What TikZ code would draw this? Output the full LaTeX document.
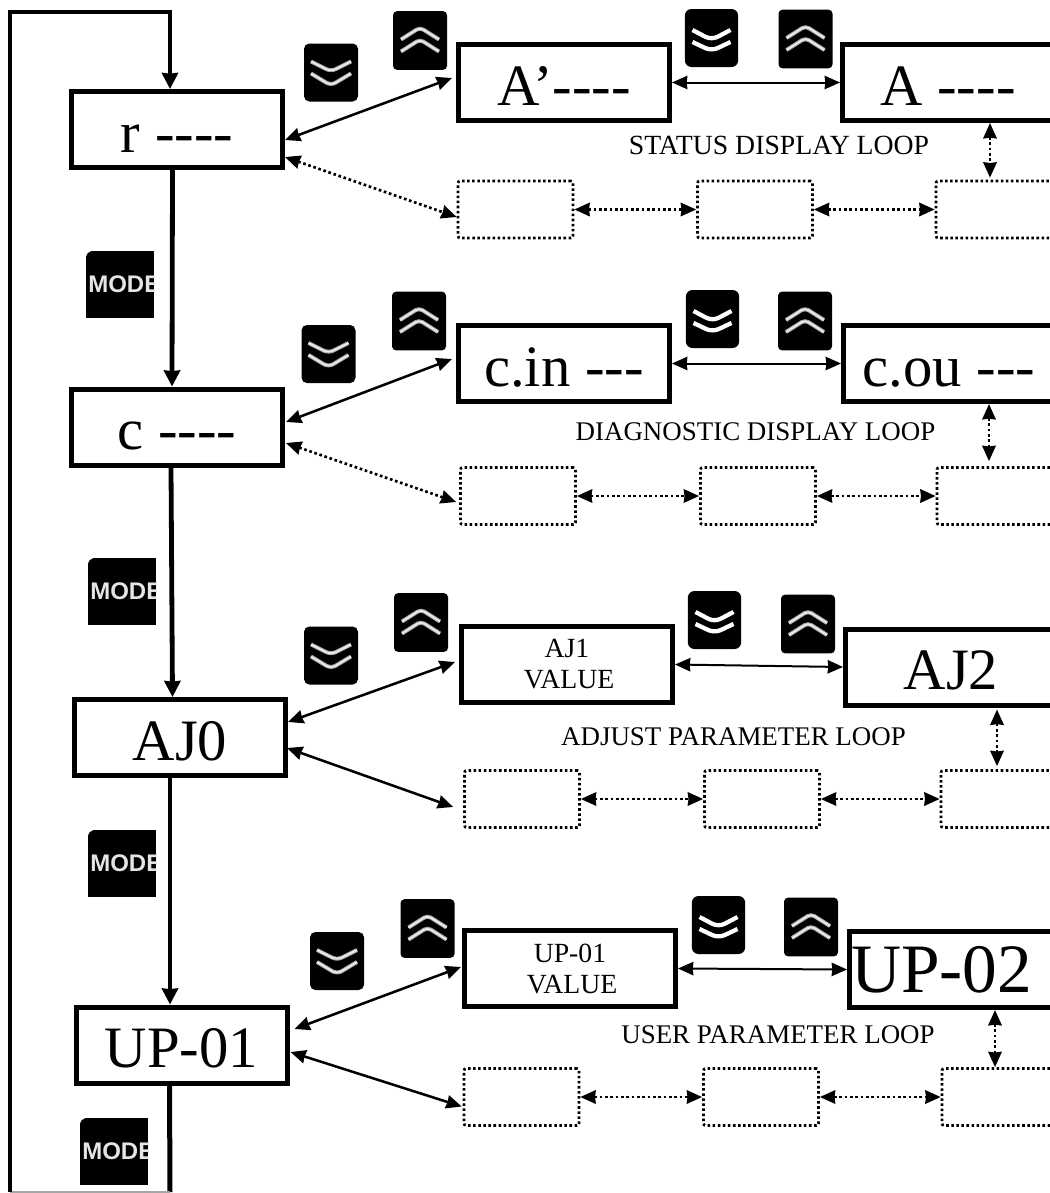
\documentclass[tikz,border=0pt]{standalone}
\usepackage{fontspec}
\setmainfont[Ligatures=TeXOff]{Liberation Serif}
\newfontfamily\keyfont{Liberation Sans}
\usetikzlibrary{arrows.meta, calc}

\begin{document}
\begin{tikzpicture}[
        x=0.75pt, y=-0.75pt,
        basebox/.style={rectangle, draw, line width=3.75pt, inner sep=0pt, minimum width=158.25pt, minimum height=57pt},
        mainbox/.style={basebox, text height=34pt, text depth=0pt, font=\fontsize{44}{50}\selectfont},
        smallbox/.style={basebox, align=center, font=\fontsize{20.8}{23.25}\selectfont},
        dotbox/.style={rectangle, draw, line width=2pt, dash pattern=on 1.9pt off 1.9pt, rounded corners=1.5pt, inner sep=0pt, minimum width=86.25pt, minimum height=42.75pt},
        dotend/.style={dotbox, minimum width=90pt},
        looplabel/.style={inner sep=0pt, font=\fontsize{20.2}{24}\selectfont},
        upkey/.style={rectangle, rounded corners=3pt, fill=black, minimum width=40.5pt, minimum height=44pt, path picture={
            \draw[gray!70, line width=3pt, shift={(path picture bounding box.center)}]
                (-19,-1) -- (0,-13) -- (19,-1) (-19,11) -- (0,-1) -- (19,11);
            \draw[white!92!black, line width=1.4pt, shift={(path picture bounding box.center)}]
                (-19,-1) -- (0,-13) -- (19,-1) (-19,11) -- (0,-1) -- (19,11);}},
        downkey/.style={rectangle, rounded corners=4pt, fill=black, minimum width=40.5pt, minimum height=43.5pt, path picture={
            \draw[gray!70, line width=3pt, shift={(path picture bounding box.center)}]
                (-20,-11) -- (0,-1) -- (20,-11) (-20,1) -- (0,13) -- (20,1);
            \draw[white!92!black, line width=1.4pt, shift={(path picture bounding box.center)}]
                (-20,-11) -- (0,-1) -- (20,-11) (-20,1) -- (0,13) -- (20,1);}},
        sharpkey/.style={rectangle, rounded corners=5pt, fill=black, minimum width=40pt, minimum height=43.5pt, path picture={
            \draw[white, line width=3.2pt, shift={(path picture bounding box.center)}]
                (-19,-8) -- (0,2) -- (19,-8) (-19,4) -- (0,13) -- (19,4);}},
        modekey/.style={rectangle, fill=black, minimum width=51pt, minimum height=50pt, path picture={
            \node[anchor=west, inner sep=0pt, text=white!90!black, font=\keyfont\bfseries\fontsize{18}{18}\selectfont] at ($(path picture bounding box.west)+(2,0)$) {MODE};
            \fill[white] (path picture bounding box.north west) -- ++(5,0) to[bend right=30] ++(-5,5) -- cycle;}},
        flowline/.style={line width=3.6pt, -{Stealth[length=12pt, width=12pt, inset=0.5pt]}},
        loopline/.style={line width=3.75pt},
        biarrow/.style={line width=1.9pt, {Stealth[length=11.5pt, width=10pt, inset=0.5pt]}-{Stealth[length=11.5pt, width=10pt, inset=0.5pt]}},
        hzarrow/.style={biarrow, line width=1.5pt},
        dotarrow/.style={biarrow, line width=2pt, dash pattern=on 2pt off 2pt}
    ]
        \useasboundingbox (0,0) rectangle (1050,1193);

        \node[mainbox] (r) at (177,129.5) {r ----};
        \node[mainbox] (c) at (177,427) {c ----};
        \node[mainbox] (aj0) at (180,737.5) {AJ0};
        \node[mainbox] (up01) at (181.5,1045) {UP-01};

        \node[mainbox] (a_prime) at (564,82.5) {A’----};
        \node[mainbox] (a_main) at (948,82.5) {A ----};
        \node[mainbox] (c_in) at (564,363.5) {c.in ---};
        \node[mainbox] (c_ou) at (949,363.5) {c.ou ---};
        \node[smallbox] (aj1) at (567,664.5) {AJ1\\\hspace*{3pt}VALUE};
        \node[mainbox] (aj2) at (951,667) {AJ2};
        \node[smallbox] (up_val) at (570,968.5) {UP-01\\\hspace*{3pt}VALUE};
        \node[mainbox, font=\fontsize{52}{56}\selectfont] (up02) at (955,969.5) {UP-02\hspace{20pt}\mbox{}};

        \node[looplabel, font=\fontsize{20.8}{24}\selectfont] (lbl_status) at (779,145) {STATUS DISPLAY LOOP};
        \node[looplabel] (lbl_diag) at (755.5,432) {DIAGNOSTIC DISPLAY LOOP};
        \node[looplabel] (lbl_adj) at (733.5,737) {ADJUST PARAMETER LOOP};
        \node[looplabel] (lbl_user) at (778,1035) {USER PARAMETER LOOP};

        \node[dotbox] (d11) at (515.5,209.5) {};
        \node[dotbox] (d12) at (755,209.5) {};
        \node[dotend] (d13) at (996,209.5) {};
        \node[dotbox] (d21) at (518,496) {};
        \node[dotbox] (d22) at (758,496) {};
        \node[dotend] (d23) at (997,496) {};
        \node[dotbox] (d31) at (522,799) {};
        \node[dotbox] (d32) at (762,799) {};
        \node[dotend] (d33) at (1001,799) {};
        \node[dotbox] (d41) at (521.5,1097) {};
        \node[dotbox] (d42) at (761,1097) {};
        \node[dotend] (d43) at (1002,1097) {};

        \node[downkey] (dn_r) at (331,72.5) {};
        \node[upkey] (up_r) at (420,40.5) {};
        \node[sharpkey] (dn_a) at (711.5,38) {};
        \node[upkey] (up_a) at (805.5,39) {};
        \node[downkey] (dn_c) at (328.5,354) {};
        \node[upkey] (up_c) at (419,321) {};
        \node[sharpkey] (dn_cc) at (712.5,319) {};
        \node[upkey] (up_cc) at (805,321) {};
        \node[downkey] (dn_j) at (331,655.5) {};
        \node[upkey] (up_j) at (421,622.5) {};
        \node[sharpkey] (dn_jj) at (714.5,620) {};
        \node[upkey] (up_jj) at (808,624) {};
        \node[downkey] (dn_u) at (337,961) {};
        \node[upkey] (up_u) at (427.5,928.5) {};
        \node[sharpkey] (dn_uu) at (718.5,925) {};
        \node[upkey] (up_uu) at (811,927) {};

        \node[modekey] (mode_r) at (120,284.5) {};
        \node[modekey] (mode_c) at (122,591.5) {};
        \node[modekey] (mode_j) at (122,863.5) {};
        \node[modekey] (mode_u) at (114,1151.5) {};

        % main ring
        \coordinate (loop_br) at (170,1192);
        \coordinate (loop_bl) at (10,1192);
        \coordinate (loop_tl) at (10,12);
        \coordinate (loop_tr) at (170,12);
        \draw[flowline] ($(r.south)+(-4.5,0)$) -- ($(c.north)+(-5,0)$);
        \draw[flowline] ($(c.south)+(-6,0)$) -- ($(aj0.north)+(-7.5,0)$);
        \draw[flowline] ($(aj0.south)+(-10,0)$) -- ($(up01.north)+(-11.5,0)$);
        \draw[loopline] ($(up01.south)+(-12,0)$) -- (loop_br);
        \draw[gray!70, line width=0.8pt] (loop_br) -- (loop_bl);
        \draw[flowline] (loop_bl) -- (loop_tl) -- (loop_tr) -- ($(r.north)+(-7,0)$);

        % first row
        \draw[biarrow] ($(r.east)+(0,10.5)$) -- ($(a_prime.west)+(-4,-4.5)$);
        \draw[dotarrow] ($(r.east)+(0,27.5)$) -- ($(d11.west)+(0,7.5)$);
        \draw[hzarrow] (a_prime.east) -- (a_main.west);
        \draw[dotarrow] (d11.east) -- (d12.west);
        \draw[dotarrow] (d12.east) -- (d13.west);
        \draw[dotarrow] ($(a_main.south)+(42,0)$) -- ($(d13.north)+(-6,-2)$);

        % second row
        \draw[biarrow] ($(c.east)+(1,-5)$) -- ($(c_in.west)+(-4,-4.5)$);
        \draw[dotarrow] ($(c.east)+(1,16)$) -- ($(d21.west)+(-3,6)$);
        \draw[hzarrow] (c_in.east) -- (c_ou.west);
        \draw[dotarrow] (d21.east) -- (d22.west);
        \draw[dotarrow] (d22.east) -- (d23.west);
        \draw[dotarrow] ($(c_ou.south)+(40,0)$) -- ($(d23.north)+(-8,-5)$);

        % third row
        \draw[biarrow] ($(aj0.east)+(0,-15.5)$) -- ($(aj1.west)+(-4,-2.5)$);
        \draw[biarrow] ($(aj0.east)+(-1,10.5)$) -- ($(d31.west)+(-10,8)$);
        \draw[hzarrow] (aj1.east) -- (aj2.west);
        \draw[dotarrow] (d31.east) -- (d32.west);
        \draw[dotarrow] (d32.east) -- (d33.west);
        \draw[dotarrow] ($(aj2.south)+(46,2)$) -- ($(d33.north)+(-4,-3)$);

        % fourth row
        \draw[biarrow] ($(up01.east)+(5,-16)$) -- ($(up_val.west)+(-1,-1.5)$);
        \draw[biarrow] ($(up01.east)+(1,7)$) -- ($(d41.west)+(-1,9.5)$);
        \draw[hzarrow] (up_val.east) -- (up02.west);
        \draw[dotarrow] (d41.east) -- (d42.west);
        \draw[dotarrow] (d42.east) -- (d43.west);
        \draw[dotarrow] ($(up02.south)+(40,0)$) -- ($(d43.north)+(-7,0)$);

    \end{tikzpicture}
\end{document}
